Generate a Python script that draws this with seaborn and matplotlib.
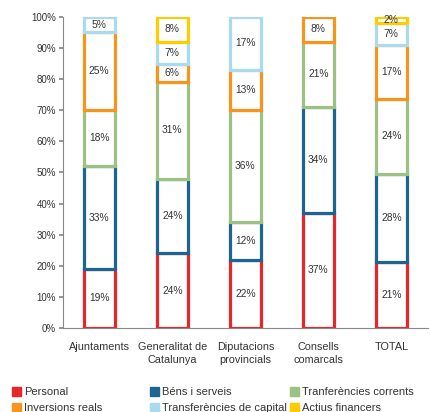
import numpy as np
import pandas as pd
import matplotlib
matplotlib.use("Agg")
import matplotlib.pyplot as plt
import matplotlib.patches as mpatches
import seaborn as sns

categories = ["Ajuntaments", "Generalitat de\nCatalunya", "Diputacions\nprovincials", "Consells\ncomarcals", "TOTAL"]
series = ["Personal", "Béns i serveis", "Tranferències corrents", "Inversions reals", "Transferències de capital", "Actius financers"]
personal = [19, 24, 22, 37, 21]
bens = [33, 24, 12, 34, 28]
transf_corrents = [18, 31, 36, 21, 24]
inversions = [25, 6, 13, 8, 17]
transf_capital = [5, 7, 17, 0, 7]
actius = [0, 8, 0, 0, 2]
colors = ["#E5262B", "#1C6592", "#9DC183", "#F7941E", "#A8DBF0", "#FFCC00"]

sns.set_theme(style="white")
plt.rcParams['font.family'] = ['Liberation Sans', 'DejaVu Sans']

FS = 7.0
BFS = 7.4
XFS = 7.8
LFS = 8.0
values = np.array([personal, bens, transf_corrents, inversions, transf_capital, actius], dtype=float)
totals = values.sum(axis=0)
pct = values / totals * 100

fig = plt.figure(figsize=(4.30, 4.12), dpi=100)
ax = fig.add_axes([0.146, 0.204, 0.849, 0.755])

bottom = np.zeros(len(categories))
for i, s in enumerate(series):
    mask = values[i] > 0
    df = pd.DataFrame({"cat": np.array(categories)[mask], "val": pct[i][mask]})
    sns.barplot(data=df, x="cat", y="val", order=categories, ax=ax,
                bottom=bottom[mask].copy(),
                color="white", edgecolor=colors[i], linewidth=2.3,
                width=0.43, errorbar=None, saturation=1)
    for j in range(len(categories)):
        if values[i, j] > 0:
            ax.text(j, bottom[j] + pct[i, j] / 2, f"{int(values[i, j])}%",
                    ha="center", va="center", fontsize=BFS, color="#333333")
    bottom += pct[i]

ax.set_xlim(-0.5, 4.5)
ax.set_ylim(0, 100)
ax.set_yticks(np.arange(0, 101, 10))
ax.set_yticklabels([f"{v}%" for v in range(0, 101, 10)], fontsize=FS, color="#333333")
ax.set_xticks(range(len(categories)))
ax.set_xticklabels(categories, fontsize=XFS, color="#333333", linespacing=1.35)
ax.tick_params(axis="x", length=0, pad=10)
ax.set_xticks(np.arange(-0.5, 5, 1), minor=True)
ax.tick_params(axis="x", which="minor", length=3, color="#888888", direction="out")
ax.tick_params(axis="y", length=3, color="#888888", direction="out", pad=2, left=True)
ax.set_xlabel("")
ax.set_ylabel("")
for side in ["top", "right"]:
    ax.spines[side].set_visible(False)
for side in ["left", "bottom"]:
    ax.spines[side].set_color("#888888")
    ax.spines[side].set_linewidth(0.8)

handles = [mpatches.Patch(facecolor=c, edgecolor=c) for c in colors]
col_x = [12 / 430, 150 / 430, 290 / 430]
for c in range(3):
    idx = [c, c + 3]
    fig.legend([handles[k] for k in idx], [series[k] for k in idx],
               loc="upper left", bbox_to_anchor=(col_x[c], 1 - 387 / 412),
               ncol=1, frameon=False, borderpad=0, borderaxespad=0,
               fontsize=LFS, handlelength=0.85, handleheight=0.85, handletextpad=0.2,
               labelspacing=0.5, labelcolor="#333333")

fig.savefig("out.png", dpi=100)
